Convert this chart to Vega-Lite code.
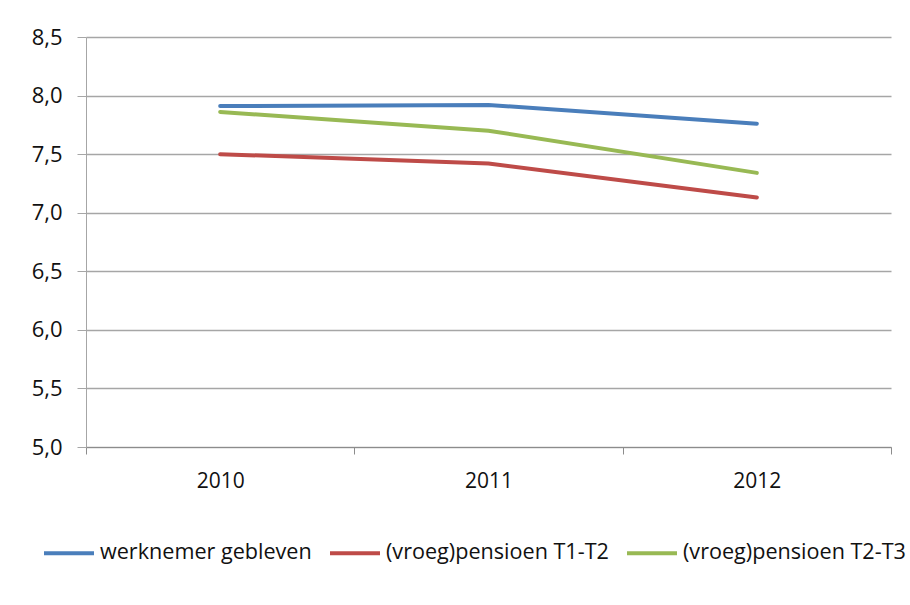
{
  "$schema": "https://vega.github.io/schema/vega-lite/v6.json",
  "width": 805,
  "height": 410,
  "autosize": {"type": "none"},
  "padding": {"left": 86, "top": 37, "right": 19, "bottom": 158},
  "background": "white",
  "config": {
    "font": "Open Sans",
    "view": {"stroke": null}
  },
  "data": {
    "values": [
      {"jaar": "2010", "groep": "werknemer gebleven", "waarde": 7.91},
      {"jaar": "2011", "groep": "werknemer gebleven", "waarde": 7.92},
      {"jaar": "2012", "groep": "werknemer gebleven", "waarde": 7.76},
      {"jaar": "2010", "groep": "(vroeg)pensioen T1-T2", "waarde": 7.50},
      {"jaar": "2011", "groep": "(vroeg)pensioen T1-T2", "waarde": 7.42},
      {"jaar": "2012", "groep": "(vroeg)pensioen T1-T2", "waarde": 7.13},
      {"jaar": "2010", "groep": "(vroeg)pensioen T2-T3", "waarde": 7.86},
      {"jaar": "2011", "groep": "(vroeg)pensioen T2-T3", "waarde": 7.70},
      {"jaar": "2012", "groep": "(vroeg)pensioen T2-T3", "waarde": 7.34}
    ]
  },
  "mark": {"type": "line", "strokeWidth": 4, "strokeCap": "round"},
  "encoding": {
    "x": {
      "field": "jaar",
      "type": "ordinal",
      "scale": {"type": "band", "paddingInner": 0, "paddingOuter": 0},
      "axis": {
        "title": null,
        "labelAngle": 0,
        "tickBand": "extent",
        "tickSize": 7,
        "tickColor": "#8c8c8c",
        "domainColor": "#8c8c8c",
        "labelFontSize": 21,
        "labelColor": "#111111",
        "labelPadding": 16,
        "grid": false
      }
    },
    "y": {
      "field": "waarde",
      "type": "quantitative",
      "scale": {"domain": [5, 8.5], "zero": false, "nice": false},
      "axis": {
        "title": null,
        "values": [5, 5.5, 6, 6.5, 7, 7.5, 8, 8.5],
        "labelExpr": "replace(format(datum.value, '.1f'), '.', ',')",
        "grid": true,
        "gridColor": "#a6a6a6",
        "gridWidth": 1.5,
        "tickSize": 9,
        "tickColor": "#a6a6a6",
        "domainColor": "#a6a6a6",
        "labelFontSize": 22,
        "labelColor": "#111111",
        "labelPadding": 15
      }
    },
    "color": {
      "field": "groep",
      "type": "nominal",
      "sort": ["werknemer gebleven", "(vroeg)pensioen T1-T2", "(vroeg)pensioen T2-T3"],
      "scale": {
        "domain": ["werknemer gebleven", "(vroeg)pensioen T1-T2", "(vroeg)pensioen T2-T3"],
        "range": ["#4a7ebb", "#be4b48", "#98b954"]
      },
      "legend": {
        "title": null,
        "orient": "none",
        "direction": "horizontal",
        "legendX": -44,
        "legendY": 489,
        "symbolType": "stroke",
        "symbolSize": 2500,
        "symbolStrokeWidth": 4,
        "labelFontSize": 21.6,
        "labelColor": "#111111",
        "labelOffset": 4,
        "columnPadding": 10,
        "labelLimit": 400
      }
    }
  }
}
